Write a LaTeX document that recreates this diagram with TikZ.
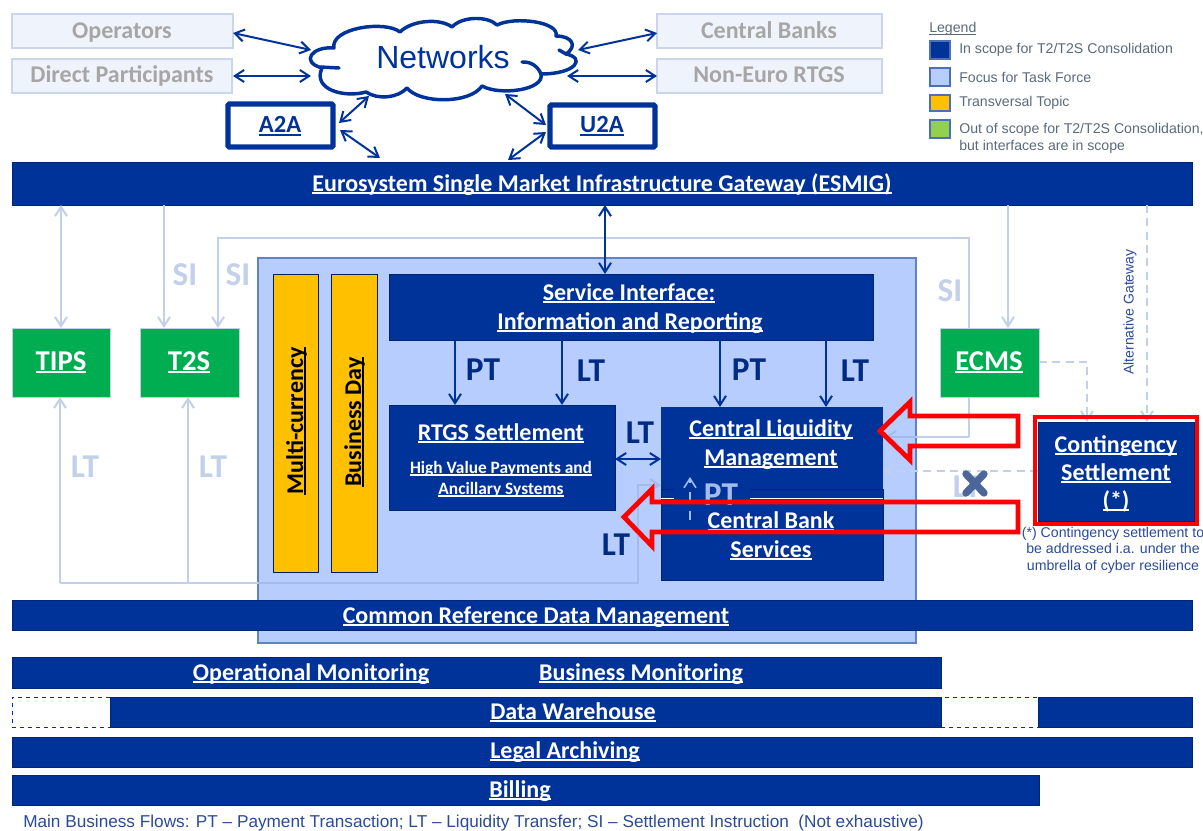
\documentclass[tikz,border=0pt]{standalone}
\usepackage{fontspec}
\setmainfont{Carlito}
\newfontfamily\arialf{Liberation Sans}
\usetikzlibrary{arrows.meta,calc}
\definecolor{navy}{HTML}{003399}
\definecolor{focus}{HTML}{B7CDFD}
\definecolor{focusb}{HTML}{5F82C8}
\definecolor{faint}{HTML}{C3D0EA}
\definecolor{faintin}{HTML}{A3BBEE}
\definecolor{gr}{HTML}{00AD50}
\definecolor{yel}{HTML}{FFC000}
\definecolor{lgreen}{HTML}{92D050}
\definecolor{greytext}{HTML}{A6A6A6}
\definecolor{greyfill}{HTML}{EFF3FC}
\definecolor{greyline}{HTML}{CBD5EB}
\definecolor{legtext}{HTML}{5A6A7A}
\definecolor{blutext}{HTML}{2A4A9A}
\newcommand{\pxbox}[7]{\node[#2,inner sep=0pt,minimum width=(#5-#3)*0.75pt,minimum height=(#6-#4)*0.75pt] (#1) at ({(#3+#5)/2},{(#4+#6)/2}) {#7};}
\newsavebox\ulbox
\newcommand{\ul}[1]{\sbox\ulbox{#1}\rlap{\rule[-1.9pt]{\wd\ulbox}{0.8pt}}\usebox\ulbox}
\newcommand{\tl}[5][]{\node[txt,#1] (#2) at (#3,#4) {#5};}
\tikzset{
 x=0.75pt,y=-0.75pt,
 barb/.style={{Straight Barb[length=7pt,width=9pt]}-{Straight Barb[length=7pt,width=9pt]}},
 barbe/.style={-{Straight Barb[length=7pt,width=9pt]}},
 navyline/.style={draw=navy,line width=1.5pt},
 fline/.style={draw=faint,line width=1.5pt},
 finner/.style={draw=faintin,line width=1.5pt},
 dline/.style={draw=faint,line width=1.5pt,dash pattern=on 6pt off 4pt},
 txt/.style={anchor=base,inner sep=0pt,text=white,font=\fontsize{18}{20}\selectfont\bfseries},
 greybox/.style={draw=greyline,fill=greyfill,line width=0.9pt},
 modebox/.style={draw=navy,fill=white,line width=4pt,rounded corners=1pt},
 bar/.style={fill=navy,draw=navy!75!black,line width=0.4pt},
 greenbox/.style={fill=gr,draw=faint,line width=0.5pt},
 yelbox/.style={fill=yel,draw=navy!60!black,line width=0.6pt},
 flow/.style={txt,font=\fontsize{25}{27}\selectfont\bfseries,text=navy!85!black},
 fflow/.style={flow,text=faint},
 swatch/.style={draw=navy!70,line width=0.8pt},
 legtxt/.style={anchor=west,inner sep=0pt,text=legtext,font=\arialf\fontsize{10.6}{12.5}\selectfont,align=left},
 redarrow/.style={draw=red,line width=3.6pt,miter limit=8},
}
\begin{document}
\begin{tikzpicture}
\useasboundingbox (0,0) rectangle (1203,831);
\pxbox{focusarea}{fill=focus,draw=focusb,line width=0.9pt}{258}{258}{916}{643}{}
\pxbox{esmig}{bar}{12}{162}{1192}{205}{}
\tl{esmigt}{602}{191}{\ul{Eurosystem Single Market Infrastructure Gateway (ESMIG)}}
% free ends
\coordinate (a1) at (61,205); \coordinate (a2) at (61,328);
\coordinate (b1) at (164,205); \coordinate (b2) at (164,328);
\coordinate (c0) at (218,328); \coordinate (c1) at (218,238); \coordinate (c2) at (969,238); \coordinate (c3) at (969,437); \coordinate (c4) at (885,437); \coordinate (c5) at (916,437);
\coordinate (d1) at (1008,205); \coordinate (d2) at (1008,328);
\coordinate (e1) at (1147,205); \coordinate (e2) at (1147,422);
\coordinate (f1) at (1039,362); \coordinate (f2) at (1087,362); \coordinate (f3) at (1087,422);
\coordinate (g1) at (1038,471); \coordinate (g2) at (884,471);
\coordinate (h1) at (60,397); \coordinate (h2) at (60,583); \coordinate (hz) at (258,583); \coordinate (h3) at (638,583); \coordinate (h4) at (638,485); \coordinate (h5) at (661,485);
\coordinate (i1) at (188,397); \coordinate (i2) at (188,583);
\draw[fline,barb] (a1) -- (a2);
\draw[fline,barbe] (b1) -- (b2);
\draw[fline,barbe] (c3) -- (c2) -- (c1) -- (c0);
\draw[fline] (c3) -- (c5);
\draw[finner,barbe] (c5) -- (c4);
\draw[fline,barbe] (d1) -- (d2);
\draw[dline,barbe] (e1) -- (e2);
\draw[dline,barbe] (f1) -- (f2) -- (f3);
\draw[dline,barbe] (g1) -- (g2);
\draw[fline,barbe] (h2) -- (h1);
\draw[fline,barbe] (i2) -- (i1);
\draw[fline] (h2) -- (hz);
\draw[finner,barbe] (hz) -- (h3) -- (h4) -- (h5);
% boxes above the faint connectors
\pxbox{tips}{greenbox}{12}{328}{110}{397}{}
\tl[font=\fontsize{21.5}{23}\selectfont\bfseries]{tipst}{61}{370}{\ul{TIPS}}
\pxbox{tts}{greenbox}{140}{328}{239}{397}{}
\tl[font=\fontsize{21.5}{23}\selectfont\bfseries]{ttst}{189}{370}{\ul{T2S}}
\pxbox{ecms}{greenbox}{940}{328}{1039}{397}{}
\tl[font=\fontsize{21.5}{23}\selectfont\bfseries]{ecmst}{989}{370}{\ul{ECMS}}
\pxbox{cont}{bar}{1038}{422}{1194}{521}{}
\tl{cont1}{1116}{452}{\ul{Contingency}}
\tl{cont2}{1116}{480}{\ul{Settlement}}
\tl{cont3}{1116}{508}{\ul{(*)}}
% inner boxes
\pxbox{multi}{yelbox}{273}{274}{318}{572}{}
\node[txt,text=black,rotate=90,anchor=base] (multit) at (303,421) {\ul{Multi-currency}};
\pxbox{bday}{yelbox}{331}{274}{377}{572}{}
\node[txt,text=black,rotate=90,anchor=base] (bdayt) at (361,422) {\ul{Business Day}};
\pxbox{service}{bar}{389}{274}{873}{340}{}
\tl{serv1}{629}{300}{\ul{Service Interface:}}
\tl{serv2}{630}{329}{\ul{Information and Reporting}}
\pxbox{rtgs}{bar}{389}{405}{615}{510}{}
\tl{rtgs1}{501}{440}{\ul{RTGS Settlement}}
\tl[font=\fontsize{13}{15}\selectfont\bfseries]{rtgs2}{501}{473}{\ul{High Value Payments and}}
\tl[font=\fontsize{13}{15}\selectfont\bfseries]{rtgs3}{501}{494}{\ul{Ancillary Systems}}
\pxbox{cbs}{bar}{661}{489}{883}{580}{}
\tl{cbs1}{771}{528}{\ul{Central Bank}}
\tl{cbs2}{771}{557}{\ul{Services}}
\pxbox{clm}{fill=navy,draw=none}{661}{407}{883}{489}{}
\tl{clm1}{771}{436}{\ul{Central Liquidity}}
\tl{clm2}{771}{465}{\ul{Management}}
\fill[navy] (674,482) rectangle (750,500);
\draw[draw=white,line width=1.4pt] (661,498.5) -- (674,498.5) (750,498.5) -- (883,498.5);
\tl[font=\fontsize{25}{27}\selectfont\bfseries,text=faintin]{ptfaint}{721}{505}{PT}
\coordinate (j1) at (690,520); \coordinate (j2) at (690,477);
\draw[draw=faintin,line width=1.2pt,dash pattern=on 7pt off 7pt,barbe] (j1) -- (j2);
% bars
\pxbox{crd}{bar}{12}{600}{1192}{630}{}
\tl{crdt}{536}{623}{\ul{Common Reference Data Management}}
\pxbox{mon}{bar}{12}{657}{941}{688}{}
\tl{opm}{311}{680}{\ul{Operational Monitoring}}
\tl{bum}{641}{680}{\ul{Business Monitoring}}
\pxbox{dw1}{draw=navy,dashed,fill=white,line width=0.7pt}{12}{697}{110}{727}{}
\pxbox{dw3}{draw=navy,dashed,fill=white,line width=0.7pt}{941}{697}{1038}{727}{}
\pxbox{dw2}{bar}{110}{697}{941}{727}{}
\tl{dwt}{573}{719}{\ul{Data Warehouse}}
\pxbox{dw4}{bar}{1038}{697}{1192}{727}{}
\pxbox{legal}{bar}{12}{737}{1192}{767}{}
\tl{legt}{565}{758}{\ul{Legal Archiving}}
\pxbox{bill}{bar}{12}{775}{1039}{805}{}
\tl{bilt}{520}{797}{\ul{Billing}}
% outer top boxes
\pxbox{oper}{greybox}{12}{14}{233}{48}{}
\tl[text=greytext]{opert}{122}{39}{Operators}
\pxbox{dirp}{greybox}{12}{59}{232}{93}{}
\tl[text=greytext]{dirpt}{122}{83}{Direct Participants}
\pxbox{cb}{greybox}{657}{14}{882}{48}{}
\tl[text=greytext]{cbt}{769}{39}{Central Banks}
\pxbox{neur}{greybox}{657}{59}{882}{93}{}
\tl[text=greytext]{neurt}{769}{83}{Non-Euro RTGS}
\pxbox{atoa}{modebox}{228}{104}{333}{147}{}
\tl[text=navy,font=\fontsize{18.5}{20}\selectfont\bfseries]{atoat}{280}{133}{\ul{A2A}}
\pxbox{utoa}{modebox}{550}{105}{655}{147}{}
\tl[text=navy,font=\fontsize{18.5}{20}\selectfont\bfseries]{utoat}{602}{133}{\ul{U2A}}
% cloud
\draw[draw=navy,fill=white,line width=2.6pt,line join=round]
 (322,68) .. controls (300,62) and (312,46) .. (334,48)
 .. controls (330,28) and (385,20) .. (400,32)
 .. controls (412,20) and (440,18) .. (452,27)
 .. controls (462,16) and (488,16) .. (497,25)
 .. controls (515,16) and (560,22) .. (556,36)
 .. controls (572,36) and (578,46) .. (566,54)
 .. controls (586,58) and (576,74) .. (541,74)
 .. controls (545,90) and (500,96) .. (482,86)
 .. controls (470,104) and (420,104) .. (407,88)
 .. controls (398,98) and (378,100) .. (366,92)
 .. controls (345,98) and (312,90) .. (322,68) -- cycle;
\draw[draw=navy,line width=2.6pt,line cap=round] (320,67) -- (339,68);
\draw[draw=navy,line width=2.6pt,line cap=round] (522,62) to[bend left=35] (541,74);
\draw[draw=navy,line width=2.6pt,line cap=round] (566,54) -- (559,50);
\node[text=navy,font=\arialf\fontsize{24}{26}\selectfont,inner sep=0pt,anchor=base] (net) at (443,69) {Networks};
\coordinate (n1) at (311,50); \coordinate (n2) at (311,76); \coordinate (n3) at (578,50); \coordinate (n4) at (567,76);
\coordinate (n5) at (369,96); \coordinate (n6) at (505,94);
\coordinate (o1) at (233,33); \coordinate (o2) at (233,76); \coordinate (o3) at (657,33); \coordinate (o4) at (657,76);
\coordinate (m1) at (339,123); \coordinate (m2) at (340,130); \coordinate (m3) at (380,158);
\coordinate (m4) at (546,125); \coordinate (m5) at (546,132); \coordinate (m6) at (508,160);
\draw[navyline,barb] (o1) -- (n1);
\draw[navyline,barb] (o2) -- (n2);
\draw[navyline,barb] (n3) -- (o3);
\draw[navyline,barb] (n4) -- (o4);
\draw[navyline,barb] (n5) -- (m1);
\draw[navyline,barb] (m2) -- (m3);
\draw[navyline,barb] (n6) -- (m4);
\draw[navyline,barb] (m5) -- (m6);
% inner navy connectors
\coordinate (k1) at (605,205); \coordinate (k2) at (605,274);
\draw[navyline,barb] (k1) -- (k2);
\coordinate (p1) at (455,341); \coordinate (p2) at (455,405);
\coordinate (p3) at (562,340); \coordinate (p4) at (562,405);
\coordinate (p5) at (720,340); \coordinate (p6) at (720,407);
\coordinate (p7) at (826,340); \coordinate (p8) at (826,407);
\coordinate (p9) at (615,459); \coordinate (p10) at (661,459);
\draw[navyline,barbe] (p1) -- (p2);
\draw[navyline,barbe] (p3) -- (p4);
\draw[navyline,barbe] (p5) -- (p6);
\draw[navyline,barbe] (p7) -- (p8);
\draw[navyline,barb] (p9) -- (p10);
% flow labels
\node[flow] (l1) at (483,380) {PT};
\node[flow] (l2) at (591,381) {LT};
\node[flow] (l3) at (749,380) {PT};
\node[flow] (l4) at (855,381) {LT};
\node[flow] (l5) at (640,443) {LT};
\node[flow] (l6) at (616,555) {LT};
\node[fflow] (s1) at (185,285) {SI};
\node[fflow] (s2) at (238,285) {SI};
\node[fflow] (s3) at (950,301) {SI};
\node[fflow] (f1l) at (85,477) {LT};
\node[fflow] (f2l) at (213,477) {LT};
\node[fflow] (f3l) at (967,497) {LT};
\draw[draw=navy!55!gray!90,line width=5.5pt,line cap=round] (966,474) -- (984,493) (984,474) -- (966,493);
\node[rotate=90,text=blutext,font=\arialf\fontsize{10.5}{12}\selectfont,inner sep=0pt] (altg) at (1130,312) {Alternative Gateway};
% red arrows
\draw[redarrow] (1018,416) -- (910,416) -- (910,402) -- (880,431) -- (910,460) -- (910,446) -- (1018,446) -- cycle;
\draw[redarrow] (1018,502) -- (652,502) -- (652,489) -- (624,517) -- (652,546) -- (652,532) -- (1018,532) -- cycle;
\pxbox{redf}{draw=red,line width=3.4pt}{1035}{417}{1197}{524}{}
% footnote
\node[text=blutext,font=\arialf\fontsize{10.6}{12.4}\selectfont,inner sep=0pt,align=center] (fn) at (1113,550) {(*) Contingency settlement to\\be addressed i.a. under the\\umbrella of cyber resilience};
\node[anchor=west,text=blutext,font=\arialf\fontsize{12.9}{14}\selectfont,inner sep=0pt] (foot) at (23,823) {Main Business Flows: PT – Payment Transaction; LT – Liquidity Transfer; SI – Settlement Instruction\ \ (Not exhaustive)};
% legend
\node[legtxt] (legh) at (929,29) {\ul{Legend}};
\pxbox{sw1}{swatch,fill=navy}{930}{41}{950}{59}{}
\pxbox{sw2}{swatch,fill=focus}{930}{68}{950}{86}{}
\pxbox{sw3}{swatch,fill=yel}{930}{95}{950}{111}{}
\pxbox{sw4}{swatch,fill=lgreen}{930}{120}{950}{138}{}
\node[legtxt] (lt1) at (959,50) {In scope for T2/T2S Consolidation};
\node[legtxt] (lt2) at (959,77) {Focus for Task Force};
\node[legtxt] (lt3) at (959,103) {Transversal Topic};
\node[legtxt,anchor=north west] (lt4) at (959,123) {Out of scope for T2/T2S Consolidation,\\but interfaces are in scope};
\end{tikzpicture}
\end{document}
